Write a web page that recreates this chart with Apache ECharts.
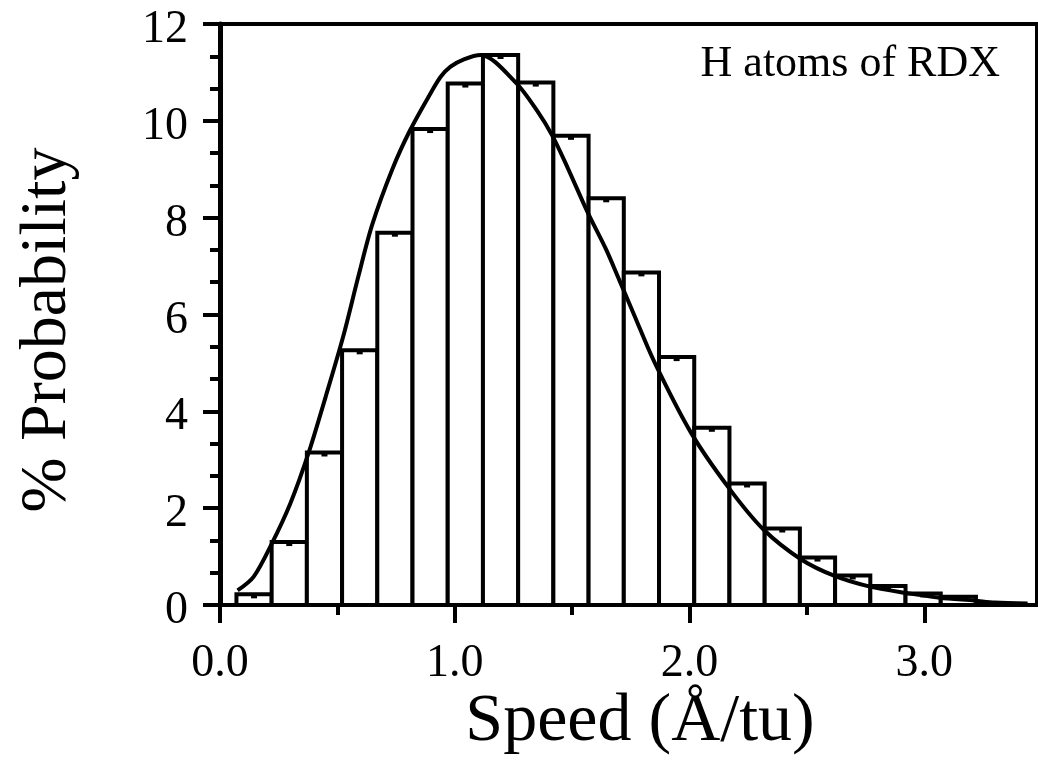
<!DOCTYPE html>
<html>
<head>
<meta charset="utf-8">
<script src="https://cdn.jsdelivr.net/npm/echarts@6/dist/echarts.min.js"></script>
<style>html,body{margin:0;padding:0;background:#fff}#c{width:1038px;height:771px}</style>
</head>
<body>
<div id="c"></div>
<script>
// Histogram bins (left edges, Å/tu) and % probability
const binLefts = [0.07, 0.22, 0.37, 0.52, 0.67, 0.82, 0.97, 1.12, 1.27, 1.42, 1.57, 1.72, 1.87, 2.02, 2.17, 2.32, 2.47, 2.62, 2.77, 2.92, 3.07];
const binWidth = 0.15;
const probs = [0.22, 1.30, 3.15, 5.26, 7.69, 9.83, 10.77, 11.36, 10.79, 9.69, 8.40, 6.87, 5.12, 3.66, 2.51, 1.58, 0.98, 0.61, 0.39, 0.24, 0.17];
// Fitted curve
const curveX = [0.075, 0.143, 0.219, 0.30, 0.378, 0.45, 0.525, 0.59, 0.648, 0.734, 0.809, 0.897, 0.94, 0.982, 1.039, 1.11, 1.26, 1.352, 1.416, 1.48, 1.566, 1.644, 1.70, 1.765, 1.85, 2.006, 2.167, 2.315, 2.476, 2.618, 2.76, 2.92, 3.066, 3.215, 3.30, 3.44];
const curveY = [0.30, 0.58, 1.25, 2.10, 3.15, 4.30, 5.55, 6.80, 7.85, 9.00, 9.80, 10.57, 10.91, 11.12, 11.27, 11.36, 10.79, 10.20, 9.69, 9.04, 8.11, 7.35, 6.72, 5.98, 5.02, 3.56, 2.42, 1.56, 0.94, 0.60, 0.39, 0.25, 0.15, 0.09, 0.05, 0.03];
const xMajorTicks = [0, 1, 2, 3];
const xMinorTicks = [0.5, 1.5, 2.5];
const xTickLabels = ['0.0', '1.0', '2.0', '3.0'];

const FONT = 'Liberation Serif';
const chart = echarts.init(document.getElementById('c'));
const barData = binLefts.map((l, i) => [l, l + binWidth, probs[i]]);
const curveData = curveX.map((x, i) => [x, curveY[i]]);

chart.setOption({
  animation: false,
  grid: { left: 220, top: 24, right: 1, bottom: 166, show: true, borderColor: '#000', borderWidth: 4, backgroundColor: 'transparent' },
  xAxis: [{
    type: 'value', min: 0, max: 3.48, position: 'bottom',
    axisLine: { lineStyle: { color: '#000', width: 4 } },
    axisTick: { show: true, length: 18, lineStyle: { color: '#000', width: 4 }, customValues: xMajorTicks },
    axisLabel: { color: '#000', fontFamily: FONT, fontSize: 46, margin: 36, customValues: xMajorTicks,
      formatter: v => { const i = xMajorTicks.indexOf(v); return i >= 0 ? xTickLabels[i] : ''; } },
    splitLine: { show: false }
  }, {
    type: 'value', min: 0, max: 3.48, position: 'bottom',
    axisLine: { show: false },
    axisTick: { show: true, length: 10, lineStyle: { color: '#000', width: 4 }, customValues: xMinorTicks },
    axisLabel: { show: false },
    splitLine: { show: false }
  }],
  yAxis: {
    type: 'value', min: 0, max: 12, interval: 2,
    axisLine: { show: true, lineStyle: { color: '#000', width: 5 } },
    axisTick: { show: true, length: 17, lineStyle: { color: '#000', width: 4 } },
    minorTick: { show: true, splitNumber: 3, length: 10, lineStyle: { color: '#000', width: 4 } },
    axisLabel: { color: '#000', fontFamily: FONT, fontSize: 46, margin: 32,
      formatter: v => '{a|' + v + '}',
      rich: { a: { fontFamily: FONT, fontSize: 46, color: '#000', padding: [12, 0, 0, 0] } } },
    splitLine: { show: false }
  },
  graphic: [{
    type: 'text', right: 38, top: 42,
    style: { text: 'H atoms of RDX', fill: '#000', font: '44px "Liberation Serif"' }
  }, {
    type: 'text', x: 640, y: 722,
    style: { text: 'Speed (Å/tu)', fill: '#000', font: '68px "Liberation Serif"', textAlign: 'center', textVerticalAlign: 'middle' }
  }, {
    type: 'text', x: 48, y: 330, rotation: Math.PI / 2,
    style: { text: '% Probability', fill: '#000', font: '66px "Liberation Serif"', textAlign: 'center', textVerticalAlign: 'middle' }
  }],
  series: [{
    type: 'custom',
    xAxisIndex: 0,
    encode: { x: [0, 1], y: 2 },
    data: barData,
    z: 2,
    renderItem: (params, api) => {
      const p0 = api.coord([api.value(0), 0]);
      const p1 = api.coord([api.value(1), api.value(2)]);
      const cx = (p0[0] + p1[0]) / 2;
      return {
        type: 'group',
        children: [{
          type: 'rect',
          shape: { x: p0[0], y: p1[1], width: p1[0] - p0[0], height: p0[1] - p1[1] },
          style: { fill: '#fff', stroke: '#000', lineWidth: 4 }
        }, {
          type: 'rect',
          shape: { x: cx - 3, y: p1[1] + 1, width: 6, height: 3 },
          style: { fill: '#000' }
        }]
      };
    }
  }, {
    type: 'line',
    xAxisIndex: 0,
    data: curveData,
    smooth: 0.3,
    symbol: 'none',
    z: 3,
    lineStyle: { color: '#000', width: 4 }
  }]
});
</script>
</body>
</html>
